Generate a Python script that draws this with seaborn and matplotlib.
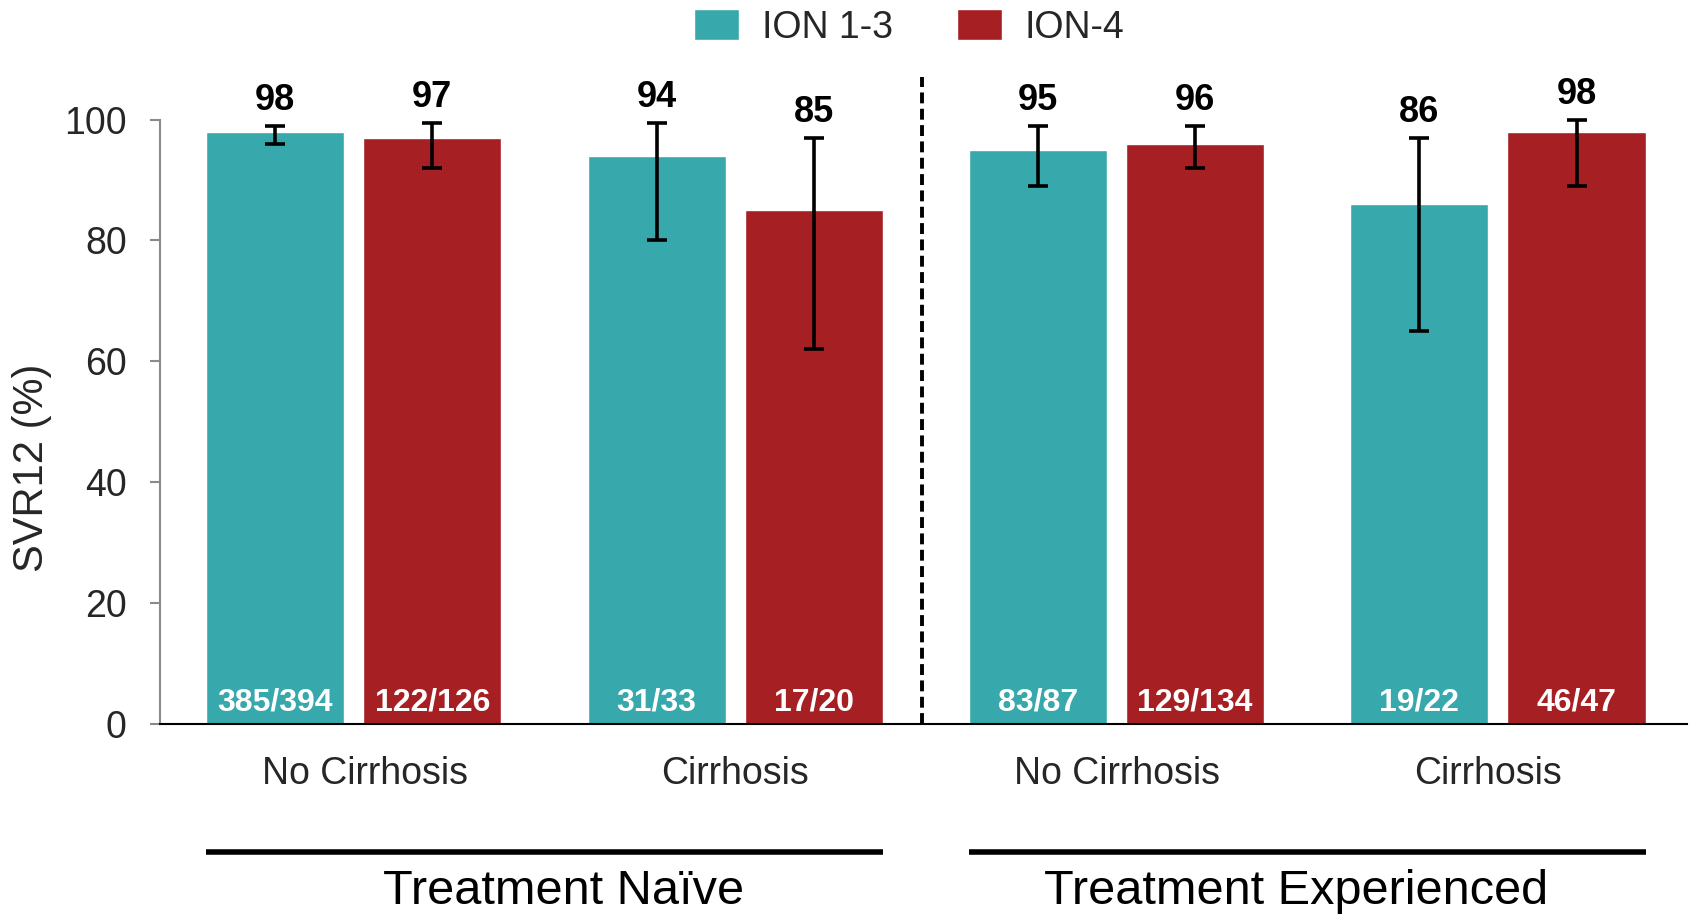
import numpy as np
import pandas as pd
import matplotlib
matplotlib.use('Agg')
import matplotlib.pyplot as plt
import matplotlib.transforms as mtransforms
import seaborn as sns

# chart data
groups = ['Treatment Naïve', 'Treatment Naïve', 'Treatment Experienced', 'Treatment Experienced']
categories = ['No Cirrhosis', 'Cirrhosis', 'No Cirrhosis', 'Cirrhosis']
series = ['ION 1-3', 'ION-4']
svr_ion13 = [98, 94, 95, 86]
svr_ion4 = [97, 85, 96, 98]
ci_low_ion13 = [96, 80, 89, 65]
ci_high_ion13 = [99, 99.5, 99, 97]
ci_low_ion4 = [92, 62, 92, 89]
ci_high_ion4 = [99.5, 97, 99, 100]
counts_ion13 = ['385/394', '31/33', '83/87', '19/22']
counts_ion4 = ['122/126', '17/20', '129/134', '46/47']
group_labels = ['Treatment Naïve', 'Treatment Experienced']
y_ticks = [0, 20, 40, 60, 80, 100]

colors = {'ION 1-3': '#37A8AC', 'ION-4': '#A61F23'}

sns.set_style('white')
plt.rcParams['font.family'] = ['Liberation Sans', 'DejaVu Sans']

# build long table, one slot key per group/category pair
slots = [f'{g}|{c}' for g, c in zip(groups, categories)]
rows = []
for i, s in enumerate(slots):
    rows.append({'slot': s, 'series': series[0], 'svr': svr_ion13[i],
                 'lo': ci_low_ion13[i], 'hi': ci_high_ion13[i], 'n': counts_ion13[i]})
    rows.append({'slot': s, 'series': series[1], 'svr': svr_ion4[i],
                 'lo': ci_low_ion4[i], 'hi': ci_high_ion4[i], 'n': counts_ion4[i]})
df = pd.DataFrame(rows)

fig = plt.figure(figsize=(16.9, 9.15), dpi=100)
ax = fig.add_axes([0.0947, 0.2087, 0.9036, 0.6606])

sns.barplot(data=df, x='slot', y='svr', hue='series', order=slots, hue_order=series,
            palette=colors, errorbar=None, width=0.824, gap=0.121, saturation=1,
            legend=True, ax=ax)

# error bars and labels on each bar
for container, name in zip(ax.containers, series):
    sub = df[df['series'] == name].set_index('slot').loc[slots]
    for bar, (_, r) in zip(container.patches, sub.iterrows()):
        xc = bar.get_x() + bar.get_width() / 2
        ax.errorbar(xc, r['svr'], yerr=[[r['svr'] - r['lo']], [r['hi'] - r['svr']]],
                    fmt='none', ecolor='black', elinewidth=2.6, capsize=7, capthick=2.6,
                    clip_on=False, zorder=4)
        ax.text(xc, r['hi'] + 4.2, f"{r['svr']:g}", ha='center', va='center',
                fontsize=26, fontweight='bold', color='black', clip_on=False)
        ax.text(xc, 3.6, r['n'], ha='center', va='center', fontsize=23,
                fontweight='bold', color='white')

ax.set_xlim(-0.508, 3.496)
ax.set_ylim(0, 100)
ax.set_yticks(y_ticks)
# category labels sit slightly off the group centres in the original
ax.set_xticks([0.03, 1, 2, 2.975])
ax.set_xticklabels(categories)
ax.set_xlabel('')
ax.set_ylabel('SVR12 (%)', fontsize=30)
ax.yaxis.set_label_coords(-0.071, 0.424)

ax.tick_params(axis='x', length=0, pad=23, labelsize=27)
ax.tick_params(axis='y', length=7, width=1.5, color='#8a8a8a', pad=17, labelsize=27,
               direction='out', left=True)

sns.despine(ax=ax, top=True, right=True)
ax.spines['left'].set_color('#8a8a8a')
ax.spines['left'].set_linewidth(1.5)
ax.spines['left'].set_bounds(0, 100)
ax.spines['bottom'].set_color('black')
ax.spines['bottom'].set_linewidth(1.5)

# dashed separator between the two treatment groups
ax.plot([1.49, 1.49], [0, 107], color='black', lw=2.8, ls=(0, (2.8, 1.4)), clip_on=False, zorder=5)

# group brackets under the category labels
trans = mtransforms.blended_transform_factory(ax.transData, ax.transAxes)
half = 0.387
label_x = [0.55, 2.47]
for k, label in enumerate(group_labels):
    x0 = 2 * k - half
    x1 = 2 * k + 1 + half
    ax.plot([x0, x1], [-0.211, -0.211], color='black', lw=4, transform=trans,
            clip_on=False, solid_capstyle='butt')
    ax.text(label_x[k], -0.277, label, transform=trans, ha='center', va='center',
            fontsize=35, color='black')

# legend at the top
handles, labels = ax.get_legend_handles_labels()
ax.get_legend().remove()
fig.legend(handles, labels, loc='center', bbox_to_anchor=(0.538, 0.970), ncol=2,
           frameon=False, fontsize=27, handlelength=1.2, handleheight=0.9,
           handletextpad=0.6, columnspacing=1.7)

fig.savefig('out.png', dpi=100)
